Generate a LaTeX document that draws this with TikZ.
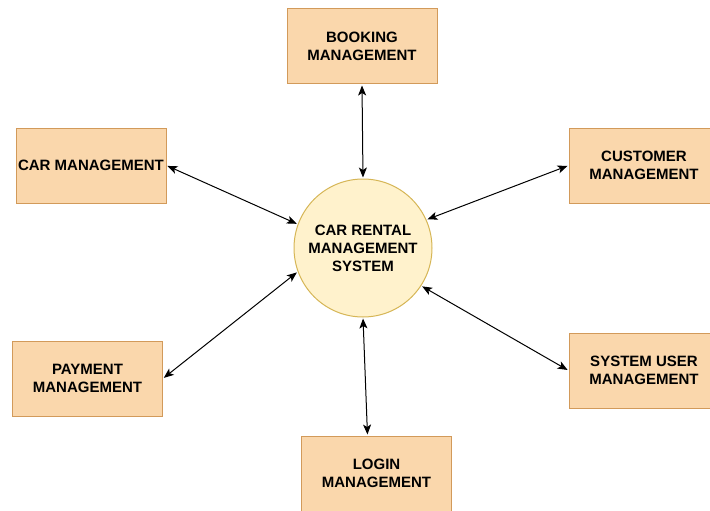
\documentclass[tikz,border=0pt]{standalone}
\usepackage{fontspec}
\setmainfont{Liberation Sans}
\usetikzlibrary{arrows.meta}
\definecolor{boxfill}{HTML}{FAD7AC}
\definecolor{boxline}{HTML}{D29A5A}
\definecolor{hubfill}{HTML}{FFF2CC}
\definecolor{hubline}{HTML}{D6B656}
\tikzset{
  module/.style={draw=boxline, fill=boxfill, line width=1pt, minimum width=150pt,
    minimum height=75pt, inner sep=0pt, align=center,
    font=\fontsize{15}{18}\selectfont\bfseries},
  hub/.style={circle, draw=hubline, fill=hubfill, line width=1pt, minimum size=138pt,
    inner sep=0pt, align=center, font=\fontsize{15}{18}\selectfont\bfseries},
  link/.style={line width=1pt, draw=black, shorten <=1pt, shorten >=1pt,
    {Stealth[length=10pt,width=8pt,inset=2.5pt]}-{Stealth[length=10pt,width=8pt,inset=2.5pt]}}
}
\begin{document}
\begin{tikzpicture}[x=1pt,y=-1pt]
  \clip (0,0) rectangle (710,511);
  \fill[white] (0,0) rectangle (710,511);

  % central system
  \node[hub] (sys) at (363,248) {CAR RENTAL\\MANAGEMENT\\SYSTEM};

  % surrounding modules
  \node[module] (book) at (362,46.5)  {BOOKING\\MANAGEMENT};
  \node[module] (car)  at (91,165.5)  {CAR MANAGEMENT};
  \node[module] (cust) at (644,165.5) {CUSTOMER\\MANAGEMENT};
  \node[module] (pay)  at (87.5,378.5) {PAYMENT\\MANAGEMENT};
  \node[module] (user) at (644,370.5) {SYSTEM USER\\MANAGEMENT};
  \node[module] (login) at (376.5,473.5) {LOGIN\\MANAGEMENT};

  % two-way links between the system and each module
  \draw[link] (book.south) -- (sys.90);
  \draw[link] (car.east) -- (sys.160);
  \draw[link] (cust.west) -- (sys.24);
  \draw[link] (pay.east) -- (sys.200);
  \draw[link] (user.west) -- (sys.327);
  \draw[link] (sys.270) -- ([xshift=-9pt]login.north);
\end{tikzpicture}
\end{document}
